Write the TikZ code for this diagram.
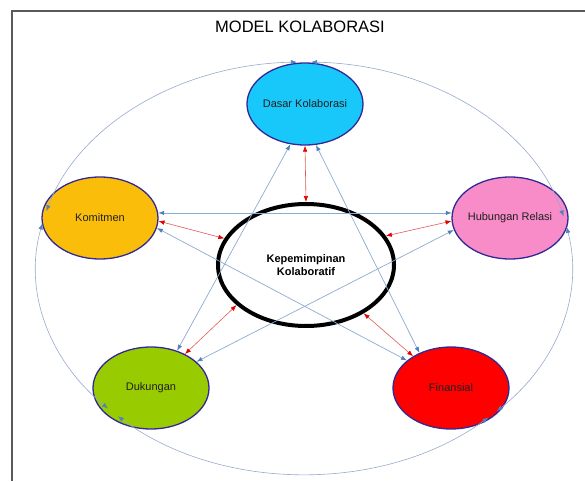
\documentclass[tikz,border=0pt]{standalone}
\usepackage{fontspec}
\setmainfont{Liberation Sans}
\usetikzlibrary{arrows.meta,shapes.geometric}

\definecolor{framegray}{RGB}{90,90,90}
\definecolor{ringblue}{RGB}{150,170,205}
\definecolor{lineblue}{RGB}{140,170,210}
\definecolor{tipblue}{RGB}{79,129,189}
\definecolor{linered}{RGB}{225,90,90}
\definecolor{tipred}{RGB}{230,0,0}
\definecolor{rimnavy}{RGB}{50,40,150}
\definecolor{fillcyan}{RGB}{25,200,250}
\definecolor{fillamber}{RGB}{250,190,10}
\definecolor{fillpink}{RGB}{247,140,200}
\definecolor{filllime}{RGB}{153,204,0}
\definecolor{fillred}{RGB}{255,0,0}

\begin{document}
\begin{tikzpicture}[x=1pt,y=-1pt,
  pillar/.style={ellipse, draw=rimnavy, line width=1.3pt,
    minimum width=116pt, minimum height=82pt,
    inner xsep=-20pt, inner ysep=0pt,
    font=\fontsize{11}{13}\selectfont, text=black!88},
  hub/.style={ellipse, draw=black, line width=4pt,
    minimum width=176pt, minimum height=122pt, align=center,
    font=\fontsize{11}{12.5}\selectfont\bfseries},
  ring/.style={draw=ringblue, line width=0.6pt,
    >={Latex[length=6pt,width=4.5pt,color=tipblue]}, <->},
  star/.style={draw=lineblue, line width=0.7pt,
    >={Latex[length=6pt,width=4.5pt,color=tipblue]}, <->},
  link/.style={draw=linered, line width=0.6pt,
    >={Latex[length=6pt,width=4.5pt,color=tipred]}, <->},
]
\useasboundingbox (0,0) rectangle (585,481);

% page frame
\draw[framegray, line width=1.5pt] (585,11) -- (12,11) -- (12,481);

% title
\node (title) at (300,27) {\fontsize{16.5}{18}\selectfont MODEL KOLABORASI};

% the five pillars and the hub
\node[pillar, fill=fillcyan]  (dasar)     at (305,104) {Dasar Kolaborasi};
\node[pillar, fill=fillamber] (komitmen)  at (100,218) {Komitmen};
\node[pillar, fill=fillpink]  (hubungan)  at (510,218) {Hubungan Relasi};
\node[pillar, fill=filllime]  (dukungan)  at (151,388) {Dukungan};
\node[pillar, fill=fillred]   (finansial) at (451,388) {Finansial};
\node[hub] (hub) at (306,265) {Kepemimpinan\\Kolaboratif};

% outer ring: arcs between neighbouring pillars
\coordinate (ringc) at (304,268);
\path (ringc) ++(271.5:268 and 206) coordinate (rdh);
\path (ringc) ++(348.5:268 and 206) coordinate (rhf);
\path (ringc) ++(46.5:268 and 206)  coordinate (rfd);
\path (ringc) ++(137:268 and 206)   coordinate (rdk);
\path (ringc) ++(196:268 and 206)   coordinate (rkd);
\draw[ring] (rdh) arc[start angle=271.5, end angle=345.5, x radius=268, y radius=206];
\draw[ring] (rhf) arc[start angle=348.5, end angle=404,   x radius=268, y radius=206];
\draw[ring] (rfd) arc[start angle=46.5,  end angle=134,   x radius=268, y radius=206];
\draw[ring] (rdk) arc[start angle=137,   end angle=192.5, x radius=268, y radius=206];
\draw[ring] (rkd) arc[start angle=196,   end angle=268.5, x radius=268, y radius=206];

% star links between non-neighbouring pillars
\draw[star] (komitmen.5)   -- (hubungan.175);
\draw[star] (komitmen.-10) -- (finansial.148);
\draw[star] (dasar.250)    -- (dukungan.55);
\draw[star] (dasar.285)    -- (finansial.132);
\draw[star] (hubungan.192) -- (dukungan.30);

% links from the hub to each pillar
\draw[link] (dasar.270)     -- (hub.90);
\draw[link] (komitmen.-3)   -- (hub.162);
\draw[link] (hubungan.183)  -- (hub.20);
\draw[link] (dukungan.45)   -- (hub.210);
\draw[link] (finansial.140) -- (hub.320);
\end{tikzpicture}
\end{document}
